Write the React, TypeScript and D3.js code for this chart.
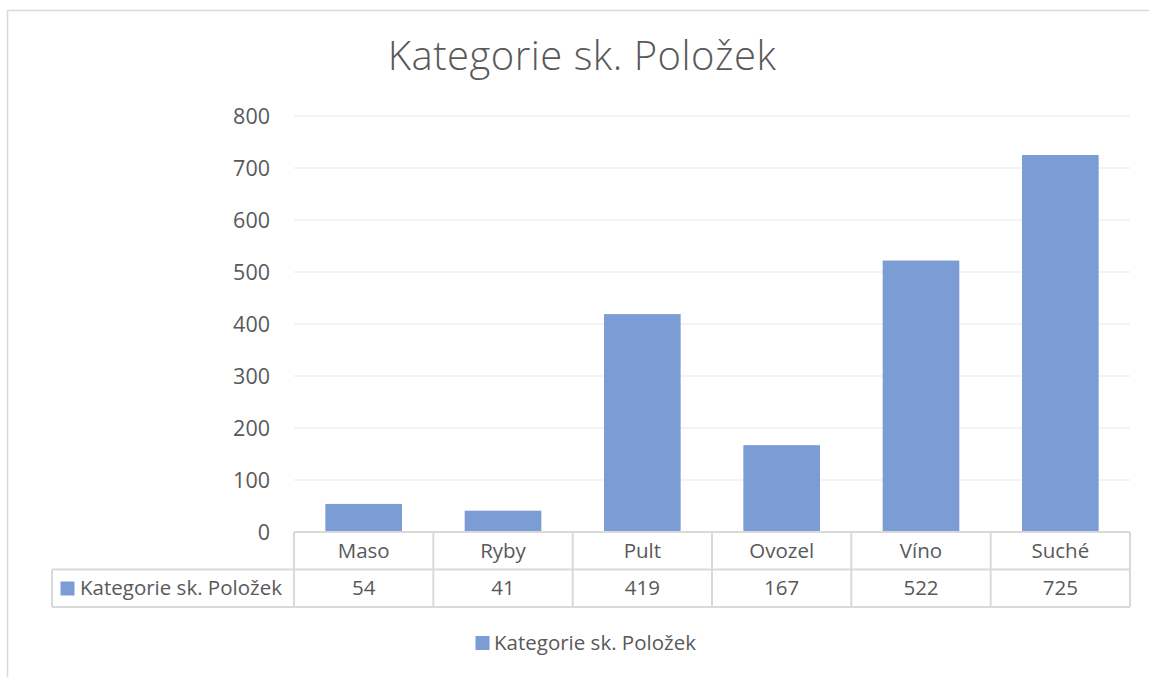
import React from "react";
import * as d3 from "d3";

const categories = ["Maso", "Ryby", "Pult", "Ovozel", "Víno", "Suché"];
const values = [54, 41, 419, 167, 522, 725];
const yTicks = [0, 100, 200, 300, 400, 500, 600, 700, 800];
const seriesName = "Kategorie sk. Položek";
const title = "Kategorie sk. Položek";

const W = 1149;
const H = 677;
const FONT = "'Open Sans', 'Noto Sans', sans-serif";
const TEXT = "#595959";
const LINE = "#d9d9d9";
const BAR = "#7c9cd6";

const App = () => {
  const plot = { left: 294, right: 1130, top: 116, bottom: 532 };
  const rowH = 37.5;
  const tableLeft = 52;

  const x = d3.scaleBand<string>()
    .domain(categories)
    .range([plot.left, plot.right])
    .paddingInner(0.45)
    .paddingOuter(0.225);

  const xCell = d3.scaleBand<string>()
    .domain(categories)
    .range([plot.left, plot.right])
    .padding(0);

  const y = d3.scaleLinear().domain([0, 800]).range([plot.bottom, plot.top]);

  const row1 = plot.bottom + rowH;
  const row2 = row1 + rowH;

  return (
    <div style={{ position: "absolute", left: 0, top: 0 }}>
      <svg width={W} height={H} style={{ display: "block", background: "white" }} fontFamily={FONT}>
        {/* chart frame */}
        <rect x={7.5} y={10.5} width={W + 20} height={H + 20} fill="white" stroke={LINE} strokeWidth={1.5} />

        <text x={582} y={59} textAnchor="middle" dominantBaseline="middle"
          fontSize={40} fontWeight={300} letterSpacing={0.5} fill={TEXT}>{title}</text>

        {/* gridlines */}
        {yTicks.filter(t => t > 0).map(t => (
          <line key={t} x1={plot.left} x2={plot.right} y1={y(t)} y2={y(t)} stroke="#efefef" strokeWidth={1.5} />
        ))}

        {/* y tick labels */}
        {yTicks.map(t => (
          <text key={t} x={270} y={y(t)} dy="0.35em" textAnchor="end" fontSize={21.5} fill={TEXT}>{t}</text>
        ))}

        {/* bars */}
        {categories.map((c, i) => (
          <rect key={c} x={x(c)} y={y(values[i])} width={x.bandwidth()} height={y(0) - y(values[i])} fill={BAR} />
        ))}

        {/* data table */}
        <g stroke={LINE} strokeWidth={2} fill="none">
          <line x1={plot.left} x2={plot.right} y1={plot.bottom} y2={plot.bottom} />
          <line x1={tableLeft} x2={plot.right} y1={row1} y2={row1} />
          <line x1={tableLeft} x2={plot.right} y1={row2} y2={row2} />
          <line x1={tableLeft} x2={tableLeft} y1={row1} y2={row2} />
          {categories.map(c => (
            <line key={c} x1={xCell(c)} x2={xCell(c)} y1={plot.bottom} y2={row2} />
          ))}
          <line x1={plot.right} x2={plot.right} y1={plot.bottom} y2={row2} />
        </g>

        {categories.map((c, i) => (
          <g key={c}>
            <text x={(xCell(c) as number) + xCell.bandwidth() / 2} y={plot.bottom + rowH / 2} dy="0.35em"
              textAnchor="middle" fontSize={20.5} fill={TEXT}>{c}</text>
            <text x={(xCell(c) as number) + xCell.bandwidth() / 2} y={row1 + rowH / 2} dy="0.35em"
              textAnchor="middle" fontSize={20.5} fill={TEXT}>{values[i]}</text>
          </g>
        ))}

        <rect x={60.5} y={581.5} width={14} height={14} fill={BAR} />
        <text x={80} y={row1 + rowH / 2} dy="0.35em" fontSize={20.5} fill={TEXT}>{seriesName}</text>

        {/* legend */}
        <rect x={475.5} y={636} width={14} height={14} fill={BAR} />
        <text x={494} y={643} dy="0.35em" fontSize={20.5} fill={TEXT}>{seriesName}</text>
      </svg>
    </div>
  );
};

export default App;
